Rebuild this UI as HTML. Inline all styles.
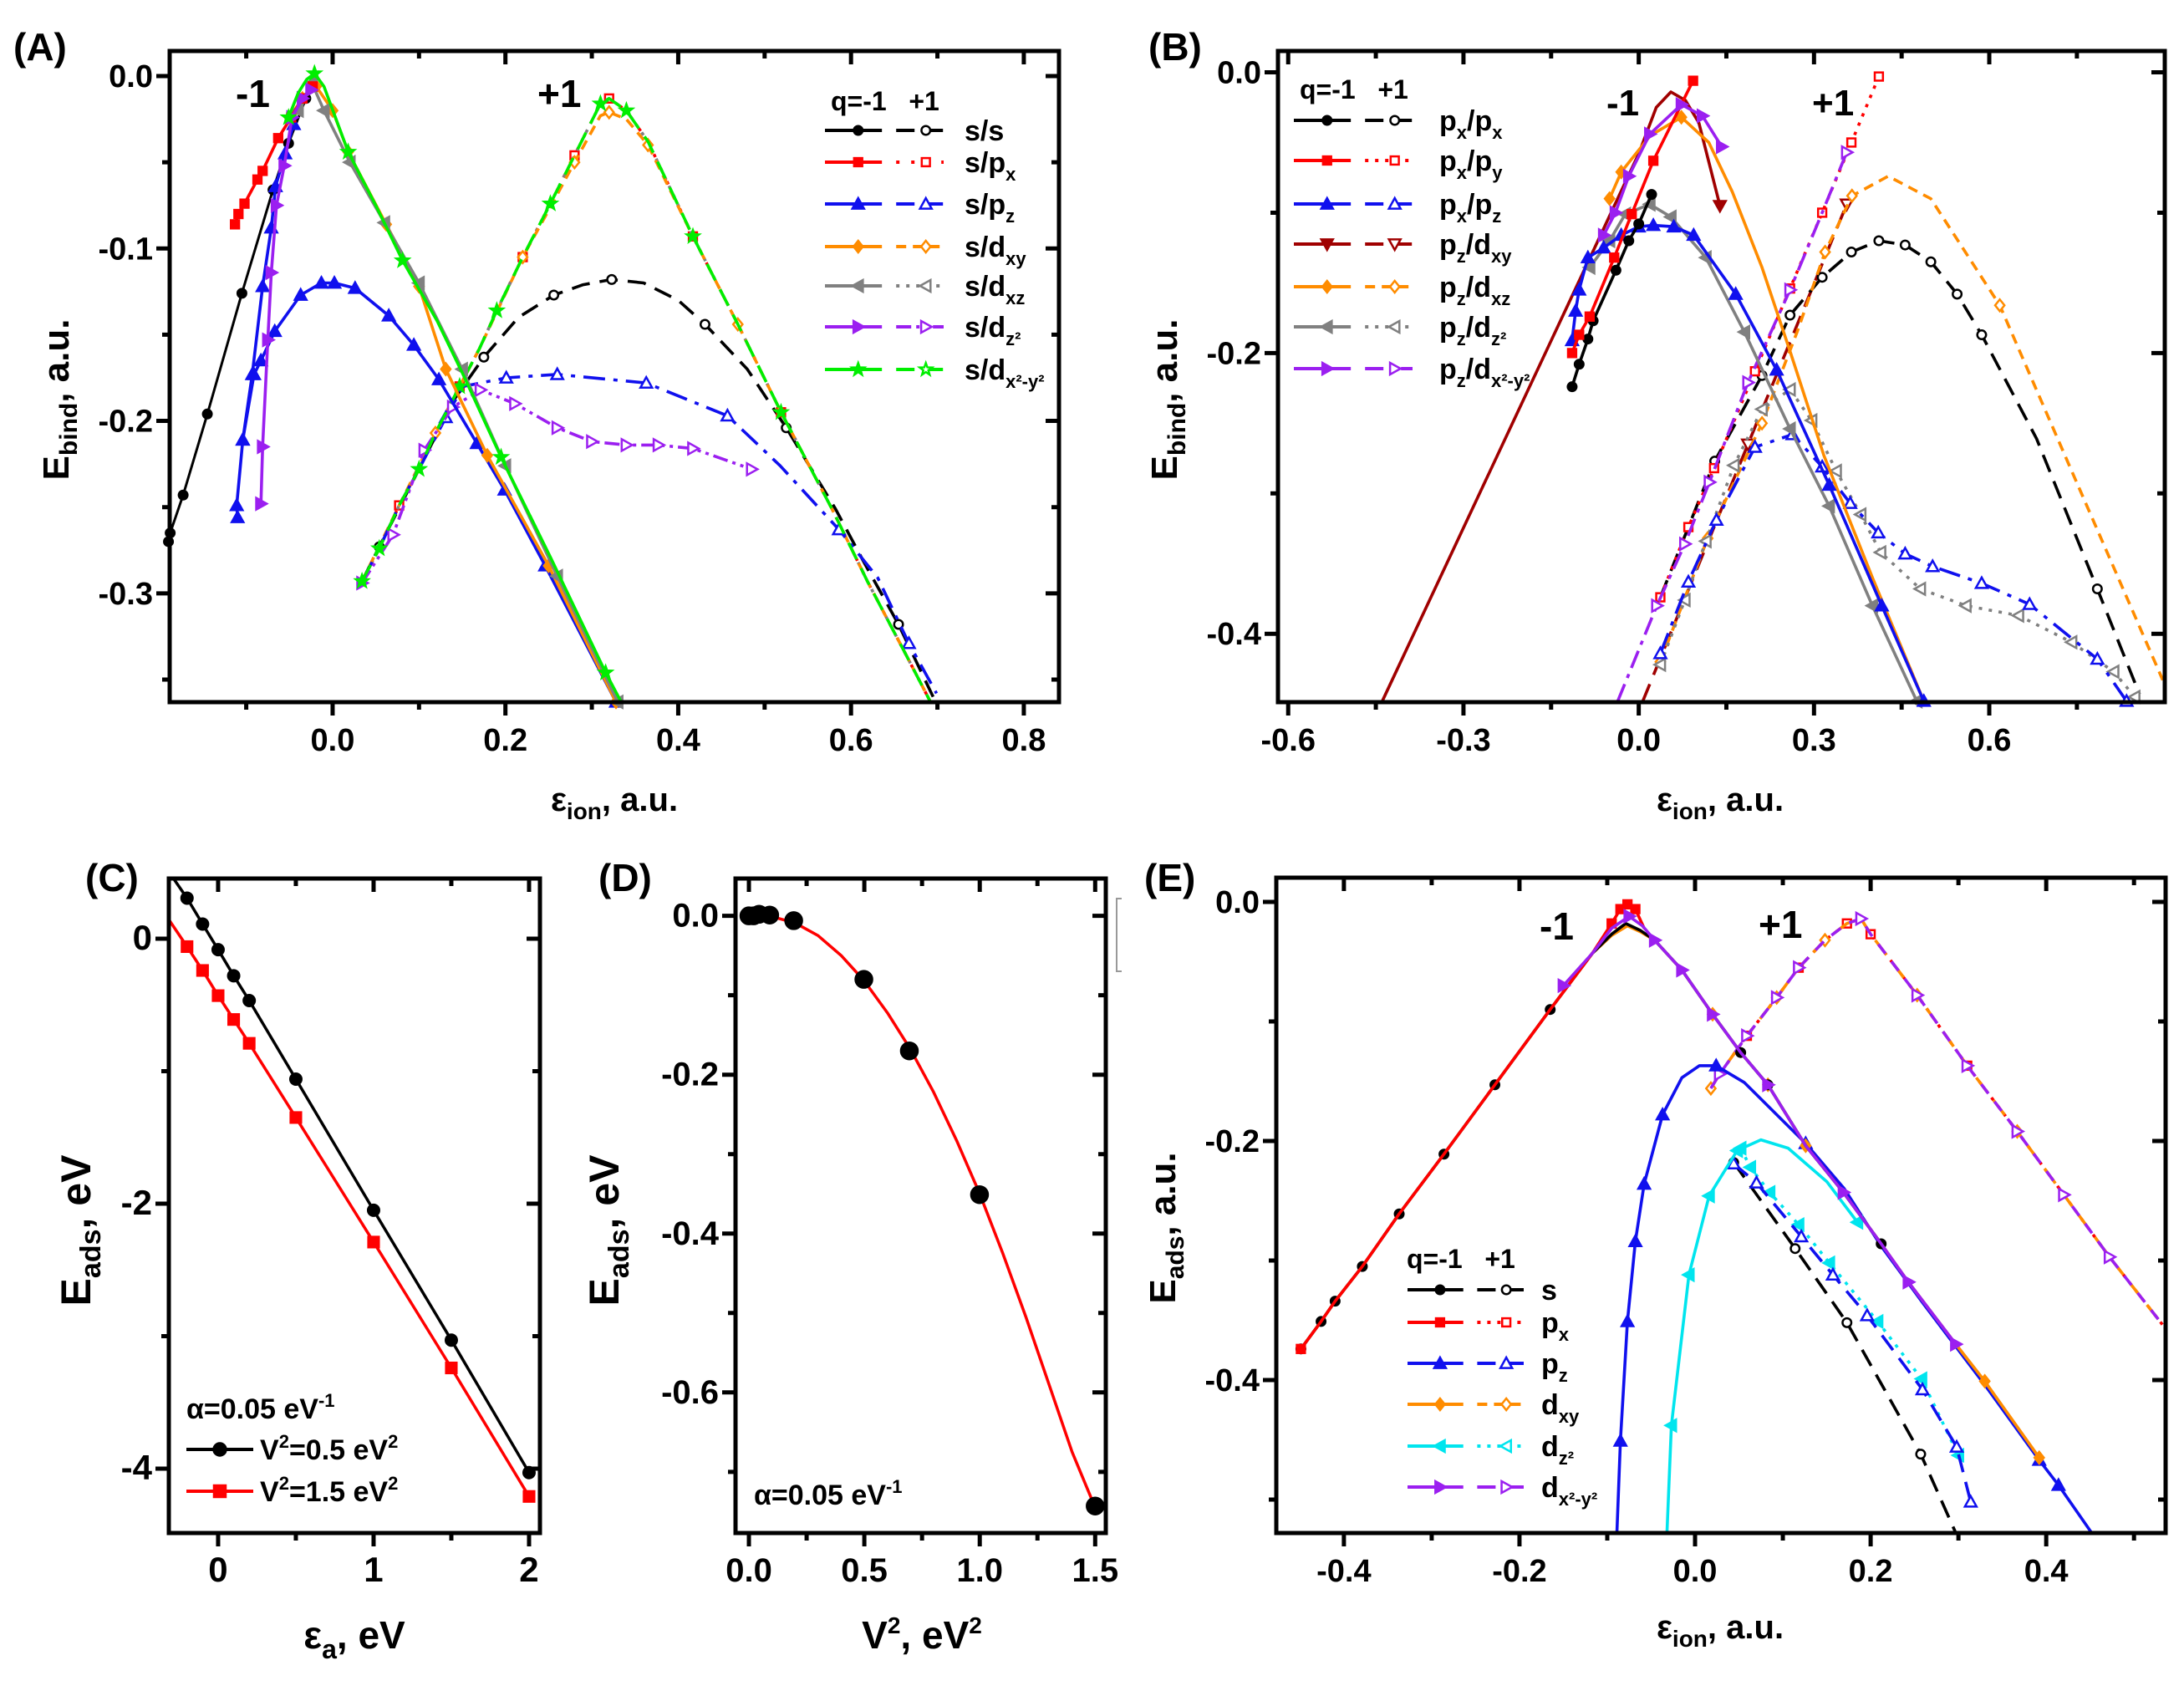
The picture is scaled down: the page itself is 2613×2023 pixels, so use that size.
<!DOCTYPE html>
<html><head><meta charset="utf-8"><style>
html,body{margin:0;padding:0;background:#fff;}
svg{display:block;font-family:"Liberation Sans",Arial,sans-serif;font-weight:bold;}
</style></head><body>
<svg id="fig" width="2613" height="2023" viewBox="0 0 2613 2023" xmlns="http://www.w3.org/2000/svg">
<rect x="0" y="0" width="2613" height="2023" fill="#fff"/>
<text x="16" y="72" font-size="46">(A)</text>
<text x="1374" y="72" font-size="46">(B)</text>
<text x="102" y="1066" font-size="46">(C)</text>
<text x="716" y="1066" font-size="46">(D)</text>
<text x="1369" y="1066" font-size="46">(E)</text>
<text x="735" y="970" font-size="40" text-anchor="middle">ε<tspan font-size="28" dy="10">ion</tspan><tspan dy="-10">, a.u.</tspan></text>
<text transform="translate(82,478) rotate(-90)" font-size="44" text-anchor="middle">E<tspan font-size="30" dy="10">bind</tspan><tspan dy="-10">, a.u.</tspan></text>
<text x="2058" y="970" font-size="40" text-anchor="middle">ε<tspan font-size="28" dy="10">ion</tspan><tspan dy="-10">, a.u.</tspan></text>
<text transform="translate(1408,478) rotate(-90)" font-size="44" text-anchor="middle">E<tspan font-size="30" dy="10">bind</tspan><tspan dy="-10">, a.u.</tspan></text>
<text x="424" y="1972" font-size="46" text-anchor="middle">ε<tspan font-size="32" dy="12">a</tspan><tspan dy="-12">, eV</tspan></text>
<text transform="translate(108,1472) rotate(-90)" font-size="50" text-anchor="middle">E<tspan font-size="34" dy="12">ads</tspan><tspan dy="-12">, eV</tspan></text>
<text x="1103" y="1972" font-size="46" text-anchor="middle">V<tspan font-size="28" dy="-18">2</tspan><tspan dy="18">, eV</tspan><tspan font-size="28" dy="-18">2</tspan></text>
<text transform="translate(740,1472) rotate(-90)" font-size="50" text-anchor="middle">E<tspan font-size="34" dy="12">ads</tspan><tspan dy="-12">, eV</tspan></text>
<text x="2058" y="1960" font-size="40" text-anchor="middle">ε<tspan font-size="28" dy="10">ion</tspan><tspan dy="-10">, a.u.</tspan></text>
<text transform="translate(1406,1469) rotate(-90)" font-size="44" text-anchor="middle">E<tspan font-size="30" dy="10">ads</tspan><tspan dy="-10">, a.u.</tspan></text>
<text x="282" y="128" font-size="46">-1</text>
<text x="643" y="128" font-size="46">+1</text>
<text x="1922" y="138" font-size="44">-1</text>
<text x="2168" y="138" font-size="44">+1</text>
<text x="1842" y="1124" font-size="46">-1</text>
<text x="2104" y="1122" font-size="46">+1</text>
<g font-size="34">
<text x="994" y="132" font-size="32">q=-1 &#160;&#160;+1</text>
<text x="1154" y="168">s/s</text>
<text x="1154" y="206">s/p<tspan font-size="22" dy="10">x</tspan></text>
<text x="1154" y="256">s/p<tspan font-size="22" dy="10">z</tspan></text>
<text x="1154" y="307">s/d<tspan font-size="22" dy="10">xy</tspan></text>
<text x="1154" y="354">s/d<tspan font-size="22" dy="10">xz</tspan></text>
<text x="1154" y="403">s/d<tspan font-size="22" dy="10">z²</tspan></text>
<text x="1154" y="454">s/d<tspan font-size="22" dy="10">x²-y²</tspan></text>
</g>
<g font-size="34">
<text x="1555" y="118" font-size="32">q=-1 &#160;&#160;+1</text>
<text x="1722" y="156">p<tspan font-size="22" dy="10">x</tspan><tspan dy="-10">/p</tspan><tspan font-size="22" dy="10">x</tspan></text>
<text x="1722" y="204">p<tspan font-size="22" dy="10">x</tspan><tspan dy="-10">/p</tspan><tspan font-size="22" dy="10">y</tspan></text>
<text x="1722" y="256">p<tspan font-size="22" dy="10">x</tspan><tspan dy="-10">/p</tspan><tspan font-size="22" dy="10">z</tspan></text>
<text x="1722" y="304">p<tspan font-size="22" dy="10">z</tspan><tspan dy="-10">/d</tspan><tspan font-size="22" dy="10">xy</tspan></text>
<text x="1722" y="355">p<tspan font-size="22" dy="10">z</tspan><tspan dy="-10">/d</tspan><tspan font-size="22" dy="10">xz</tspan></text>
<text x="1722" y="403">p<tspan font-size="22" dy="10">z</tspan><tspan dy="-10">/d</tspan><tspan font-size="22" dy="10">z²</tspan></text>
<text x="1722" y="453">p<tspan font-size="22" dy="10">z</tspan><tspan dy="-10">/d</tspan><tspan font-size="22" dy="10">x²-y²</tspan></text>
</g>
<g font-size="34">
<text x="223" y="1697">α=0.05 eV<tspan font-size="22" dy="-14">-1</tspan></text>
<text x="311" y="1746">V<tspan font-size="22" dy="-14">2</tspan><tspan dy="14">=0.5 eV</tspan><tspan font-size="22" dy="-14">2</tspan></text>
<text x="311" y="1796">V<tspan font-size="22" dy="-14">2</tspan><tspan dy="14">=1.5 eV</tspan><tspan font-size="22" dy="-14">2</tspan></text>
</g>
<text x="902" y="1800" font-size="34">α=0.05 eV<tspan font-size="22" dy="-14">-1</tspan></text>
<g font-size="34">
<text x="1683" y="1517" font-size="32">q=-1 &#160;&#160;+1</text>
<text x="1844" y="1555">s</text>
<text x="1844" y="1594">p<tspan font-size="22" dy="10">x</tspan></text>
<text x="1844" y="1643">p<tspan font-size="22" dy="10">z</tspan></text>
<text x="1844" y="1692">d<tspan font-size="22" dy="10">xy</tspan></text>
<text x="1844" y="1742">d<tspan font-size="22" dy="10">z²</tspan></text>
<text x="1844" y="1791">d<tspan font-size="22" dy="10">x²-y²</tspan></text>
</g>
<path d="M1342 1075 L1336 1075 L1336 1162 L1342 1162" stroke="#999" stroke-width="2" fill="none"/>
</svg>
<script>
const NS='http://www.w3.org/2000/svg';
const svg=document.getElementById('fig');
const A_blk1_x=[-0.19,-0.188,-0.173,-0.145,-0.105,-0.069,-0.051,-0.031];
const A_blk1_y=[-0.27,-0.265,-0.243,-0.196,-0.126,-0.066,-0.039,-0.013];
const A_blk2_x=[0.034,0.054,0.1,0.14,0.175,0.215,0.256,0.29,0.323,0.36,0.4,0.431,0.48,0.525,0.582,0.615,0.655,0.695];
const A_blk2_y=[-0.293,-0.273,-0.228,-0.188,-0.163,-0.14,-0.127,-0.121,-0.118,-0.12,-0.13,-0.144,-0.17,-0.204,-0.251,-0.282,-0.318,-0.36];
const A_red1_x=[-0.113,-0.109,-0.102,-0.087,-0.081,-0.063,-0.048,-0.035,-0.023];
const A_red1_y=[-0.086,-0.08,-0.074,-0.06,-0.055,-0.036,-0.024,-0.013,-0.006];
const A_up_x=[0.034,0.054,0.077,0.1,0.119,0.147,0.17,0.19,0.22,0.252,0.28,0.31,0.32];
const A_up_y=[-0.293,-0.274,-0.249,-0.228,-0.207,-0.18,-0.158,-0.136,-0.105,-0.074,-0.046,-0.016,-0.013];
const A_dn_x=[0.34,0.365,0.417,0.469,0.519,0.578,0.619,0.663,0.692];
const A_dn_y=[-0.02,-0.038,-0.093,-0.144,-0.195,-0.251,-0.293,-0.335,-0.363];
const A_blu1_x=[-0.110,-0.111,-0.104,-0.093,-0.081,-0.071,-0.066,-0.055,-0.045];
const A_blu1_y=[-0.256,-0.249,-0.211,-0.173,-0.122,-0.088,-0.064,-0.045,-0.028];
const A_blu2_x=[-0.104,-0.091,-0.083,-0.067,-0.037,-0.013,0.002,0.026,0.065,0.094,0.123,0.167,0.199,0.246,0.328];
const A_blu2_y=[-0.211,-0.173,-0.165,-0.148,-0.127,-0.12,-0.12,-0.123,-0.139,-0.156,-0.176,-0.213,-0.24,-0.284,-0.363];
const A_blu3_x=[0.034,0.054,0.077,0.1,0.131,0.151,0.201,0.26,0.363,0.457,0.518,0.586,0.631,0.667,0.699];
const A_blu3_y=[-0.293,-0.274,-0.249,-0.228,-0.198,-0.18,-0.175,-0.173,-0.178,-0.197,-0.226,-0.263,-0.291,-0.329,-0.358];
const A_org1_x=[-0.05,-0.035,-0.019,0.0,0.018,0.062,0.1,0.131,0.179,0.25,0.328];
const A_org1_y=[-0.024,-0.013,-0.006,-0.02,-0.044,-0.086,-0.122,-0.17,-0.22,-0.284,-0.363];
const A_org2_x=[0.034,0.077,0.119,0.17,0.22,0.252,0.28,0.31,0.32,0.34,0.365,0.417,0.469,0.519,0.578,0.619,0.663,0.692];
const A_org2_y=[-0.293,-0.249,-0.207,-0.158,-0.105,-0.076,-0.05,-0.023,-0.021,-0.025,-0.04,-0.093,-0.144,-0.195,-0.251,-0.293,-0.335,-0.363];
const A_gry1_x=[-0.04,-0.024,-0.01,0.02,0.06,0.1,0.15,0.2,0.26,0.33];
const A_gry1_y=[-0.02,-0.004,-0.02,-0.05,-0.085,-0.12,-0.17,-0.226,-0.29,-0.363];
const A_pur1_x=[-0.083,-0.081,-0.075,-0.071,-0.065,-0.056,-0.047,-0.035,-0.025];
const A_pur1_y=[-0.248,-0.215,-0.153,-0.114,-0.075,-0.052,-0.024,-0.013,-0.008];
const A_pur2_x=[0.034,0.07,0.106,0.139,0.171,0.211,0.26,0.3,0.34,0.377,0.417,0.485];
const A_pur2_y=[-0.294,-0.266,-0.217,-0.192,-0.182,-0.19,-0.204,-0.212,-0.214,-0.214,-0.216,-0.228];
const A_grn1_x=[-0.051,-0.04,-0.03,-0.021,-0.01,0.018,0.05,0.081,0.121,0.151,0.195,0.252,0.316,0.334];
const A_grn1_y=[-0.024,-0.01,-0.002,0.0015,-0.006,-0.044,-0.075,-0.107,-0.142,-0.173,-0.221,-0.279,-0.346,-0.363];
const B_blk1_x=[-0.114,-0.102,-0.087,-0.078,-0.039,-0.017,0.0,0.022];
const B_blk1_y=[-0.224,-0.208,-0.19,-0.177,-0.141,-0.12,-0.108,-0.087];
const B_blk2_x=[0.037,0.085,0.13,0.211,0.259,0.314,0.364,0.411,0.456,0.5,0.545,0.587,0.681,0.785,0.857];
const B_blk2_y=[-0.374,-0.324,-0.277,-0.216,-0.173,-0.146,-0.128,-0.12,-0.123,-0.135,-0.158,-0.187,-0.261,-0.368,-0.443];
const B_red1_x=[-0.114,-0.102,-0.084,-0.042,-0.012,0.025,0.093];
const B_red1_y=[-0.2,-0.187,-0.174,-0.132,-0.101,-0.063,-0.006];
const B_red2_x=[0.037,0.085,0.129,0.199,0.259,0.314,0.364,0.411];
const B_red2_y=[-0.374,-0.324,-0.282,-0.213,-0.154,-0.1,-0.05,-0.003];
const B_blu1_x=[-0.114,-0.108,-0.102,-0.087,-0.06,-0.03,0.0,0.025,0.06,0.094,0.166,0.236,0.326,0.416,0.488];
const B_blu1_y=[-0.191,-0.17,-0.155,-0.132,-0.125,-0.116,-0.11,-0.109,-0.11,-0.116,-0.158,-0.212,-0.294,-0.38,-0.448];
const B_blu2_x=[0.037,0.085,0.133,0.199,0.263,0.314,0.362,0.41,0.456,0.503,0.587,0.669,0.785,0.835];
const B_blu2_y=[-0.414,-0.363,-0.319,-0.267,-0.258,-0.281,-0.307,-0.328,-0.343,-0.352,-0.364,-0.379,-0.418,-0.448];
const B_brn1_x=[-0.439,0.0,0.03,0.055,0.08,0.103,0.139];
const B_brn1_y=[-0.448,-0.058,-0.025,-0.014,-0.02,-0.036,-0.095];
const B_brn2_x=[0.007,0.187,0.356];
const B_brn2_y=[-0.448,-0.265,-0.094];
const B_org1_x=[-0.05,-0.03,0.02,0.073,0.12,0.16,0.211,0.26,0.317,0.4,0.488];
const B_org1_y=[-0.09,-0.071,-0.045,-0.032,-0.05,-0.085,-0.139,-0.2,-0.273,-0.36,-0.448];
const B_org2_x=[0.037,0.118,0.211,0.271,0.319,0.365,0.427,0.5,0.618,0.741,0.897];
const B_org2_y=[-0.42,-0.332,-0.25,-0.185,-0.128,-0.088,-0.074,-0.09,-0.166,-0.284,-0.433];
const B_gry1_x=[-0.084,-0.05,-0.023,0.019,0.055,0.115,0.181,0.259,0.326,0.4,0.476];
const B_gry1_y=[-0.139,-0.12,-0.101,-0.094,-0.103,-0.132,-0.185,-0.254,-0.309,-0.38,-0.448];
const B_gry2_x=[0.037,0.079,0.115,0.163,0.211,0.259,0.296,0.338,0.38,0.414,0.482,0.56,0.65,0.741,0.813,0.849];
const B_gry2_y=[-0.422,-0.376,-0.334,-0.28,-0.24,-0.226,-0.248,-0.284,-0.315,-0.342,-0.368,-0.38,-0.387,-0.406,-0.427,-0.445];
const B_pur1_x=[-0.06,-0.04,-0.017,0.019,0.073,0.109,0.142];
const B_pur1_y=[-0.116,-0.1,-0.074,-0.044,-0.023,-0.031,-0.053];
const B_pur2_x=[-0.036,0.031,0.079,0.121,0.187,0.259,0.314,0.356];
const B_pur2_y=[-0.448,-0.38,-0.336,-0.292,-0.221,-0.155,-0.1,-0.057];
const C_x=[-0.2,-0.1,0,0.1,0.2,0.5,1.0,1.5,2.0];
const C_v05=[0.306,0.11,-0.083,-0.28,-0.467,-1.06,-2.05,-3.03,-4.03];
const C_v15=[-0.06,-0.24,-0.43,-0.61,-0.79,-1.35,-2.29,-3.24,-4.21];
const D_pts_x=[0,0.02,0.044,0.09,0.194,0.498,0.695,0.999,1.5];
const D_pts_y=[0,0,0.002,0.001,-0.006,-0.08,-0.17,-0.351,-0.743];
const D_fit_x=[0,0.1,0.2,0.3,0.4,0.5,0.6,0.7,0.8,0.9,1.0,1.1,1.2,1.3,1.4,1.5];
const D_fit_y=[-0.003,-0.001,-0.009,-0.025,-0.05,-0.082,-0.122,-0.168,-0.222,-0.283,-0.35,-0.425,-0.505,-0.59,-0.675,-0.745];
const E_rise_x=[-0.449,-0.426,-0.41,-0.379,-0.337,-0.286,-0.228,-0.165,-0.117];
const E_rise_y=[-0.374,-0.351,-0.334,-0.305,-0.261,-0.211,-0.153,-0.09,-0.043];
const E_blkpk_x=[-0.095,-0.079,-0.062];
const E_blkpk_y=[-0.027,-0.018,-0.024];
const E_redpk_x=[-0.095,-0.085,-0.077,-0.068,-0.058];
const E_redpk_y=[-0.018,-0.006,-0.002,-0.006,-0.022];
const E_orgpk_x=[-0.095,-0.077,-0.062];
const E_orgpk_y=[-0.028,-0.02,-0.025];
const E_purpk_x=[-0.095,-0.075,-0.06];
const E_purpk_y=[-0.022,-0.012,-0.02];
const E_desc_x=[-0.046,-0.015,0.02,0.052,0.083,0.126,0.169,0.212,0.243,0.297,0.33,0.392];
const E_desc_y=[-0.032,-0.057,-0.094,-0.126,-0.153,-0.204,-0.243,-0.286,-0.318,-0.37,-0.401,-0.465];
const E_plus_x=[0.018,0.028,0.059,0.093,0.118,0.148,0.173,0.189,0.2,0.253,0.31,0.367,0.42,0.472,0.535];
const E_plus_y=[-0.156,-0.144,-0.112,-0.08,-0.055,-0.032,-0.018,-0.014,-0.027,-0.078,-0.137,-0.192,-0.245,-0.297,-0.356];
const E_blu1_x=[-0.089,-0.085,-0.077,-0.068,-0.058,-0.037,-0.015,0.005,0.024,0.056,0.093,0.126,0.17,0.212,0.26,0.33,0.392,0.414,0.451];
const E_blu1_y=[-0.528,-0.451,-0.351,-0.284,-0.236,-0.178,-0.147,-0.137,-0.137,-0.151,-0.178,-0.202,-0.24,-0.288,-0.336,-0.404,-0.467,-0.488,-0.527];
const E_blu2_x=[0.044,0.07,0.121,0.157,0.196,0.259,0.298,0.314];
const E_blu2_y=[-0.219,-0.235,-0.28,-0.312,-0.346,-0.408,-0.456,-0.502];
const E_cyn1_x=[-0.032,-0.027,-0.007,0.016,0.048,0.075,0.106,0.15,0.185];
const E_cyn1_y=[-0.528,-0.438,-0.312,-0.246,-0.208,-0.199,-0.206,-0.234,-0.268];
const E_cyn2_x=[0.052,0.063,0.085,0.118,0.153,0.208,0.258,0.3];
const E_cyn2_y=[-0.206,-0.222,-0.243,-0.27,-0.302,-0.351,-0.399,-0.463];
const E_blk2_x=[0.044,0.114,0.173,0.257,0.297];
const E_blk2_y=[-0.218,-0.29,-0.352,-0.462,-0.528];
const A_xt=[0,0.2,0.4,0.6,0.8], A_xl=["0.0","0.2","0.4","0.6","0.8"], A_xm=[-0.1,0.1,0.3,0.5,0.7];
const A_yt=[0,-0.1,-0.2,-0.3], A_yl=["0.0","-0.1","-0.2","-0.3"], A_ym=[-0.05,-0.15,-0.25,-0.35];
const B_xt=[-0.6,-0.3,0,0.3,0.6], B_xl=["-0.6","-0.3","0.0","0.3","0.6"], B_xm=[-0.45,-0.15,0.15,0.45,0.75];
const B_yt=[0,-0.2,-0.4], B_yl=["0.0","-0.2","-0.4"], B_ym=[-0.1,-0.3];
const C_xt=[0,1,2], C_xl=["0","1","2"], C_xm=[0.5,1.5];
const C_yt=[0,-2,-4], C_yl=["0","-2","-4"], C_ym=[-1,-3];
const D_xt=[0,0.5,1,1.5], D_xl=["0.0","0.5","1.0","1.5"], D_xm=[0.25,0.75,1.25];
const D_yt=[0,-0.2,-0.4,-0.6], D_yl=["0.0","-0.2","-0.4","-0.6"], D_ym=[-0.1,-0.3,-0.5,-0.7];
const E_xt=[-0.4,-0.2,0,0.2,0.4], E_xl=["-0.4","-0.2","0.0","0.2","0.4"], E_xm=[-0.3,-0.1,0.1,0.3,0.5];
const E_yt=[0,-0.2,-0.4], E_yl=["0.0","-0.2","-0.4"], E_ym=[-0.1,-0.3,-0.5];

const K='#000',R='#ff0000',BL='#1010ee',OR='#ff8c00',GR='#808080',PU='#9b1ff0',GN='#00ee00',BR='#a00000',CY='#00e5ee';
const DASH='22 12',DOT='4 8',DASHDOT='22 8 5 8',DDOT='18 6 4 6 4 6',SDASH='12 8',DASHDOT2='26 10 5 10';

function mk(tag){return document.createElementNS(NS,tag);}
function drawMarker(g,type,x,y,c,filled,s){
  let e;
  if(type==='circle'){e=mk('circle');e.setAttribute('cx',x);e.setAttribute('cy',y);e.setAttribute('r',s*0.75);}
  else if(type==='bigcircle'){e=mk('circle');e.setAttribute('cx',x);e.setAttribute('cy',y);e.setAttribute('r',s);}
  else if(type==='square'){e=mk('rect');e.setAttribute('x',x-s*0.7);e.setAttribute('y',y-s*0.7);e.setAttribute('width',s*1.4);e.setAttribute('height',s*1.4);}
  else {
    let p;
    if(type==='up')p=[[0,-s],[s,s*0.8],[-s,s*0.8]];
    else if(type==='down')p=[[0,s],[s,-s*0.8],[-s,-s*0.8]];
    else if(type==='left')p=[[-s,0],[s*0.8,-s],[s*0.8,s]];
    else if(type==='right')p=[[s,0],[-s*0.8,-s],[-s*0.8,s]];
    else if(type==='diamond')p=[[0,-s],[s*0.8,0],[0,s],[-s*0.8,0]];
    else {p=[];for(let i=0;i<10;i++){const r=i%2?s*0.45:s*1.1;const a=-Math.PI/2+i*Math.PI/5;p.push([r*Math.cos(a),r*Math.sin(a)]);}}
    e=mk('polygon');e.setAttribute('points',p.map(q=>(x+q[0])+','+(y+q[1])).join(' '));
  }
  e.setAttribute('fill',filled?c:'#fff');e.setAttribute('stroke',c);e.setAttribute('stroke-width',2.5);
  
  
  g.appendChild(e);
}
let clipN=0;
function panel(id,box,xt,xl,xm,yt,yl,ym,series,tickFs){
  const sx=v=>box.l+(v-box.x0)/(box.x1-box.x0)*(box.r-box.l);
  const sy=v=>box.t+(box.y1-v)/(box.y1-box.y0)*(box.b-box.t);
  const g=mk('g');
  
  
  svg.appendChild(g);
  const cid='clip'+(clipN++);
  const cp=mk('clipPath');cp.setAttribute('id',cid);
  const cr=mk('rect');cr.setAttribute('x',box.l-12);cr.setAttribute('y',box.t);cr.setAttribute('width',box.r-box.l+12);cr.setAttribute('height',box.b-box.t+12);
  cp.appendChild(cr);g.appendChild(cp);
  const cp2=mk('clipPath');cp2.setAttribute('id',cid+'l');
  const cr2=mk('rect');cr2.setAttribute('x',box.l);cr2.setAttribute('y',box.t);cr2.setAttribute('width',box.r-box.l);cr2.setAttribute('height',box.b-box.t);
  cp2.appendChild(cr2);g.appendChild(cp2);
  const dg=mk('g');dg.setAttribute('clip-path','url(#'+cid+')');
  
  
  g.appendChild(dg);
  series.forEach(s=>{
    if(s.w!==0){
      const path=mk('path');
      let d='';
      for(let i=0;i<s.x.length;i++){d+=(i?'L':'M')+sx(s.x[i]).toFixed(1)+' '+sy(s.y[i]).toFixed(1);}
      path.setAttribute('d',d);path.setAttribute('fill','none');path.setAttribute('stroke',s.c);
      path.setAttribute('stroke-width',s.w||3.6);path.setAttribute('stroke-linejoin','round');
      path.setAttribute('clip-path','url(#'+cid+'l)');
      if(s.dash)path.setAttribute('stroke-dasharray',s.dash);
      
      
      dg.appendChild(path);
    }
    if(s.m){
      const idx=s.mi||s.x.map((_,i)=>i);
      idx.forEach(i=>drawMarker(dg,s.m,sx(s.x[i]),sy(s.y[i]),s.c,s.f,s.ms||7));
    }
  });
  const fr=mk('rect');fr.setAttribute('x',box.l);fr.setAttribute('y',box.t);fr.setAttribute('width',box.r-box.l);fr.setAttribute('height',box.b-box.t);
  fr.setAttribute('fill','none');fr.setAttribute('stroke','#000');fr.setAttribute('stroke-width',5);
  
  
  g.appendChild(fr);
  const tk=mk('path');let d='';
  const addX=(v,L)=>{const X=sx(v);if(X<box.l-1||X>box.r+1)return;d+=`M${X} ${box.b}v${L}M${X} ${box.t}v${L}`;};
  const addY=(v,L)=>{const Y=sy(v);if(Y<box.t-1||Y>box.b+1)return;d+=`M${box.l} ${Y}h${-L}M${box.r} ${Y}h${-L}`;};
  xt.forEach(v=>addX(v,16));xm.forEach(v=>addX(v,9));yt.forEach(v=>addY(v,16));ym.forEach(v=>addY(v,9));
  tk.setAttribute('d',d);tk.setAttribute('stroke','#000');tk.setAttribute('stroke-width',5);
  
  
  g.appendChild(tk);
  const fs=tickFs||38;
  xt.forEach((v,i)=>{const t=mk('text');t.setAttribute('x',sx(v));t.setAttribute('y',box.b+58);t.setAttribute('font-size',fs);t.setAttribute('text-anchor','middle');t.textContent=xl[i];
    
    
    g.appendChild(t);});
  yt.forEach((v,i)=>{const t=mk('text');t.setAttribute('x',box.l-20);t.setAttribute('y',sy(v)+13);t.setAttribute('font-size',fs);t.setAttribute('text-anchor','end');t.textContent=yl[i];
    
    
    g.appendChild(t);});
}
function legendRow(x0,y,c,dash,m1,m2,len){
  const L=len||142;
  const g=mk('g');
  
  
  svg.appendChild(g);
  const a=mk('path');a.setAttribute('d',`M${x0} ${y}h${L*0.48}`);a.setAttribute('stroke',c);a.setAttribute('stroke-width',4);g.appendChild(a);
  const b=mk('path');b.setAttribute('d',`M${x0+L*0.6} ${y}h${L*0.4}`);b.setAttribute('stroke',c);b.setAttribute('stroke-width',4);
  if(dash)b.setAttribute('stroke-dasharray',dash);g.appendChild(b);
  if(m1)drawMarker(g,m1,x0+L*0.28,y,c,true,7);
  if(m2)drawMarker(g,m2,x0+L*0.85,y,c,false,7);
}
panel('a',{l:203,r:1267,t:61,b:840,x0:-0.1886,x1:0.8407,y0:-0.3631,y1:0.01454},A_xt,A_xl,A_xm,A_yt,A_yl,A_ym,[
 {n:'s-s-minus',x:A_blk1_x,y:A_blk1_y,c:K,m:'circle',f:true,w:3},
 {n:'s-s-plus',x:A_blk2_x,y:A_blk2_y,c:K,dash:DASH,m:'circle',f:false,mi:[1,4,6,8,11,13,16]},
 {n:'s-px-plus',x:A_up_x.concat(A_dn_x),y:A_up_y.concat(A_dn_y),c:R,dash:'4 14',m:'square',f:false,mi:[2,5,8,10,12,15,17]},
 {n:'s-dxz-plus',x:A_up_x.concat(A_dn_x),y:A_up_y.concat(A_dn_y),c:GR,dash:DOT},
 {n:'s-dxy-plus',x:A_org2_x,y:A_org2_y,c:OR,dash:SDASH,m:'diamond',f:false,mi:[2,4,6,8,10,12]},
 {n:'s-pz-plus',x:A_blu3_x,y:A_blu3_y,c:BL,dash:DASHDOT2,m:'up',f:false,mi:[4,6,7,8,9,11,13]},
 {n:'s-dz2-plus',x:A_pur2_x,y:A_pur2_y,c:PU,dash:DDOT,m:'right',f:false},
 {n:'s-dx2y2-plus',x:A_up_x.concat(A_dn_x),y:A_up_y.concat(A_dn_y),c:GN,dash:DASH,m:'star',f:true,mi:[0,1,3,5,7,9,11,13,15,17]},
 {n:'s-pz-minus-a',x:A_blu1_x,y:A_blu1_y,c:BL,m:'up',f:true},
 {n:'s-pz-minus-b',x:A_blu2_x,y:A_blu2_y,c:BL,m:'up',f:true},
 {n:'s-dxy-minus',x:A_org1_x,y:A_org1_y,c:OR,m:'diamond',f:true},
 {n:'s-dxz-minus',x:A_gry1_x,y:A_gry1_y,c:GR,m:'left',f:true},
 {n:'s-px-minus',x:A_red1_x,y:A_red1_y,c:R,m:'square',f:true},
 {n:'s-dz2-minus',x:A_pur1_x,y:A_pur1_y,c:PU,m:'right',f:true},
 {n:'s-dx2y2-minus',x:A_grn1_x,y:A_grn1_y,c:GN,m:'star',f:true,mi:[0,3,5,7,10,12]}
]);
panel('b',{l:1529,r:2590,t:61,b:840,x0:-0.6175,x1:0.9004,y0:-0.4487,y1:0.0152},B_xt,B_xl,B_xm,B_yt,B_yl,B_ym,[
 {n:'pz-dxy-minus',x:B_brn1_x,y:B_brn1_y,c:BR,m:'down',f:true,mi:[6]},
 {n:'pz-dxy-plus',x:B_brn2_x,y:B_brn2_y,c:BR,dash:DASH,m:'down',f:false,mi:[1,2]},
 {n:'px-px-plus',x:B_blk2_x,y:B_blk2_y,c:K,dash:DASH,m:'circle',f:false,mi:[2,3,4,5,6,7,8,9,10,11,13]},
 {n:'pz-dxz-plus',x:B_org2_x,y:B_org2_y,c:OR,dash:SDASH,m:'diamond',f:false,mi:[0,1,2,4,5,8]},
 {n:'pz-dz2-plus',x:B_gry2_x,y:B_gry2_y,c:GR,dash:DOT,m:'left',f:false},
 {n:'px-pz-plus',x:B_blu2_x,y:B_blu2_y,c:BL,dash:DASHDOT2,m:'up',f:false},
 {n:'px-py-plus',x:B_red2_x,y:B_red2_y,c:R,dash:DOT,m:'square',f:false},
 {n:'pz-dx2y2-plus',x:B_pur2_x,y:B_pur2_y,c:PU,dash:DASHDOT,m:'right',f:false,mi:[1,2,3,4,5,7]},
 {n:'pz-dxz-minus',x:B_org1_x,y:B_org1_y,c:OR,m:'diamond',f:true,mi:[0,1,3]},
 {n:'pz-dz2-minus',x:B_gry1_x,y:B_gry1_y,c:GR,m:'left',f:true},
 {n:'px-pz-minus',x:B_blu1_x,y:B_blu1_y,c:BL,m:'up',f:true},
 {n:'px-px-minus',x:B_blk1_x,y:B_blk1_y,c:K,m:'circle',f:true},
 {n:'px-py-minus',x:B_red1_x,y:B_red1_y,c:R,m:'square',f:true},
 {n:'pz-dx2y2-minus',x:B_pur1_x,y:B_pur1_y,c:PU,m:'right',f:true}
]);
panel('c',{l:202,r:646,t:1051,b:1834,x0:-0.317,x1:2.07,y0:-4.486,y1:0.454},C_xt,C_xl,C_xm,C_yt,C_yl,C_ym,[
 {n:'v2-0-5',x:[-0.32].concat(C_x),y:[0.51].concat(C_v05),c:K,m:'circle',f:true,mi:[1,2,3,4,5,6,7,8,9],w:3.5,ms:9},
 {n:'v2-1-5',x:[-0.32].concat(C_x),y:[0.15].concat(C_v15),c:R,m:'square',f:true,mi:[1,2,3,4,5,6,7,8,9],w:3.5,ms:9}
],42);
panel('d',{l:880,r:1323,t:1051,b:1834,x0:-0.058,x1:1.546,y0:-0.777,y1:0.047},D_xt,D_xl,D_xm,D_yt,D_yl,D_ym,[
 {n:'fit',x:D_fit_x,y:D_fit_y,c:R,w:3.5},
 {n:'points',x:D_pts_x,y:D_pts_y,c:K,w:0,m:'bigcircle',f:true,ms:10}
],40);
panel('e',{l:1527,r:2591,t:1050,b:1834,x0:-0.477,x1:0.536,y0:-0.528,y1:0.0203},E_xt,E_xl,E_xm,E_yt,E_yl,E_ym,[
 {n:'s-plus',x:E_blk2_x,y:E_blk2_y,c:K,dash:DASH,m:'circle',f:false,mi:[0,1,2,3]},
 {n:'dz2-plus',x:E_cyn2_x,y:E_cyn2_y,c:CY,dash:DOT,m:'left',f:true},
 {n:'pz-plus',x:E_blu2_x,y:E_blu2_y,c:BL,dash:DASH,m:'up',f:false},
 {n:'px-plus',x:E_plus_x,y:E_plus_y,c:R,dash:DOT,m:'square',f:false,mi:[2,4,6,8,10]},
 {n:'dxy-plus',x:E_plus_x,y:E_plus_y,c:OR,dash:DASH,m:'diamond',f:false,mi:[0,3,5,9,11]},
 {n:'dx2y2-plus',x:E_plus_x,y:E_plus_y,c:PU,dash:'14 12',m:'right',f:false,mi:[1,2,3,4,7,9,10,11,12,13]},
 {n:'pz-minus',x:E_blu1_x,y:E_blu1_y,c:BL,m:'up',f:true,mi:[1,2,3,4,5,8,11,16,17]},
 {n:'dz2-minus',x:E_cyn1_x,y:E_cyn1_y,c:CY,m:'left',f:true,mi:[1,2,3,4,8]},
 {n:'dxy-minus',x:E_rise_x.concat(E_orgpk_x,E_desc_x),y:E_rise_y.concat(E_orgpk_y,E_desc_y),c:OR,m:'diamond',f:true,mi:[14,16,17,22,23]},
 {n:'s-minus',x:E_rise_x.concat(E_blkpk_x,E_desc_x.slice(0,8)),y:E_rise_y.concat(E_blkpk_y,E_desc_y.slice(0,8)),c:K,m:'circle',f:true,mi:[0,1,2,3,4,5,6,7,15,16,19]},
 {n:'px-minus',x:E_rise_x.concat(E_redpk_x),y:E_rise_y.concat(E_redpk_y),c:R,m:'square',f:true,mi:[0,9,10,11,12]},
 {n:'dx2y2-minus',x:[-0.15,-0.117].concat(E_purpk_x,E_desc_x.slice(0,10)),y:[-0.07,-0.043].concat(E_purpk_y,E_desc_y.slice(0,10)),c:PU,m:'right',f:true,mi:[0,3,5,6,7,9,11,13,14]}
]);
legendRow(987,156,K,DASH,'circle','circle');
legendRow(987,194,R,'4 14','square','square');
legendRow(987,244,BL,DASH,'up','up');
legendRow(987,295,OR,SDASH,'diamond','diamond');
legendRow(987,342,GR,DOT,'left','left');
legendRow(987,391,PU,DDOT,'right','right');
legendRow(987,442,GN,DASH,'star','star');
legendRow(1548,144,K,DASH,'circle','circle');
legendRow(1548,192,R,DOT,'square','square');
legendRow(1548,244,BL,DASH,'up','up');
legendRow(1548,292,BR,DASH,'down','down');
legendRow(1548,343,OR,SDASH,'diamond','diamond');
legendRow(1548,391,GR,DOT,'left','left');
legendRow(1548,441,PU,DASHDOT,'right','right');
const cl1=mk('path');cl1.setAttribute('d','M223 1734h80');cl1.setAttribute('stroke',K);cl1.setAttribute('stroke-width',4);


svg.appendChild(cl1);drawMarker(svg,'circle',263,1734,K,true,10);
const cl2=mk('path');cl2.setAttribute('d','M223 1784h80');cl2.setAttribute('stroke',R);cl2.setAttribute('stroke-width',4);


svg.appendChild(cl2);drawMarker(svg,'square',263,1784,R,true,10);
legendRow(1684,1543,K,DASH,'circle','circle',139);
legendRow(1684,1582,R,DOT,'square','square',139);
legendRow(1684,1631,BL,DASH,'up','up',139);
legendRow(1684,1680,OR,SDASH,'diamond','diamond',139);
legendRow(1684,1730,CY,DOT,'left','left',139);
legendRow(1684,1779,PU,DASH,'right','right',139);
</script>
</body></html>
